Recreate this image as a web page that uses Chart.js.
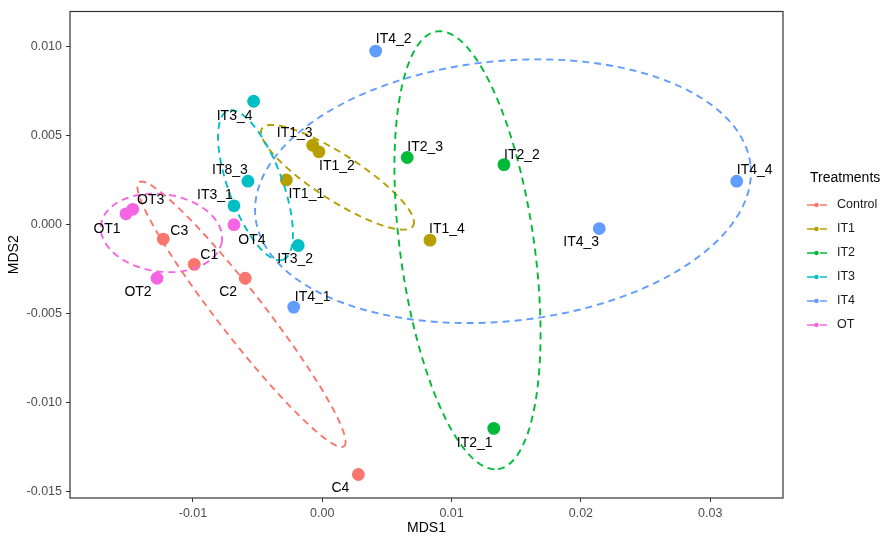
<!DOCTYPE html>
<html lang="en">
<head>
    <meta charset="UTF-8">
    <title>NMDS Treatments</title>
    <script src="https://cdn.jsdelivr.net/npm/chart.js"></script>
    <style>
        html, body { margin: 0; padding: 0; background: #fff; }
        #wrap { width: 887px; height: 544px; }
    </style>
</head>
<body>
    <div id="wrap"><canvas id="nmdsChart"></canvas></div>

    <script>
        // Data
        const treatments = ['Control', 'IT1', 'IT2', 'IT3', 'IT4', 'OT'];
        const treatmentColors = ['#F8766D', '#B79F00', '#00BA38', '#00BFC4', '#619CFF', '#F564E3'];

        const sampleNames  = ['C1', 'C2', 'C3', 'C4',
                              'IT1_1', 'IT1_2', 'IT1_3', 'IT1_4',
                              'IT2_1', 'IT2_2', 'IT2_3',
                              'IT3_1', 'IT3_2', 'IT8_3', 'IT3_4',
                              'IT4_1', 'IT4_2', 'IT4_3', 'IT4_4',
                              'OT1', 'OT2', 'OT3', 'OT4'];
        const sampleGroups = ['Control', 'Control', 'Control', 'Control',
                              'IT1', 'IT1', 'IT1', 'IT1',
                              'IT2', 'IT2', 'IT2',
                              'IT3', 'IT3', 'IT3', 'IT3',
                              'IT4', 'IT4', 'IT4', 'IT4',
                              'OT', 'OT', 'OT', 'OT'];
        const mds1 = [-0.0099, -0.00596, -0.0123, 0.00279,
                      -0.00278, -0.00026, -0.00074, 0.00833,
                      0.01326, 0.01405, 0.00657,
                      -0.00683, -0.00186, -0.00575, -0.00531,
                      -0.00221, 0.00413, 0.02142, 0.03205,
                      -0.01518, -0.01278, -0.01466, -0.00683];
        const mds2 = [-0.00223, -0.00301, -0.00081, -0.01403,
                      0.00251, 0.00409, 0.00446, -0.00087,
                      -0.01144, 0.00337, 0.00377,
                      0.00106, -0.00117, 0.00244, 0.00693,
                      -0.00463, 0.00975, -0.00022, 0.00244,
                      0.00061, -0.00301, 0.00086, 0.0];

        // 95% ellipses per treatment: centre and two conjugate semi-axes (data units)
        const ellipseCentre = [[-0.006249, -0.005033], [0.001176, 0.002659], [0.011230, -0.001438],
                               [-0.005166, 0.002213], [0.013975, 0.001878], [-0.012436, -0.000463]];
        const ellipseAxisA  = [[0.007927, -0.007414], [0.005839, -0.002737], [0.002359, -0.012291],
                               [0.002127, -0.004186], [0.019149, 0.001449], [0.004671, -0.000474]];
        const ellipseAxisB  = [[0.001408, 0.000780], [0.000967, 0.001076], [0.005135, 0.000513],
                               [0.001964, 0.000518], [0.001060, -0.007263], [-0.000418, -0.002152]];

        const xTicks = [-0.01, 0.00, 0.01, 0.02, 0.03];
        const xTickLabels = ['-0.01', '0.00', '0.01', '0.02', '0.03'];
        const yTicks = [-0.015, -0.010, -0.005, 0.000, 0.005, 0.010];
        const yTickLabels = ['-0.015', '-0.010', '-0.005', '0.000', '0.005', '0.010'];

        // text label nudges in pixels, same order as sampleNames
        const labelOffsets = [[15, -9], [-17, 14], [16, -8], [-18, 14],
                              [20, 14], [18, 14], [-18, -12], [17, -11],
                              [-19, 15], [18, -10], [18, -10],
                              [-19, -11], [-3, 14], [-18, -11], [-19, 15],
                              [19, -10], [18, -12], [-18, 14], [18, -11],
                              [-19, 15], [-19, 14], [18, -9], [18, 15]];

        const FONT = '"Liberation Sans", Arial, sans-serif';

        // Build one dataset per treatment
        const datasets = treatments.map((t, gi) => {
            const pts = [];
            sampleNames.forEach((name, i) => {
                if (sampleGroups[i] === t) {
                    pts.push({ x: mds1[i], y: mds2[i], name: name, idx: i });
                }
            });
            return {
                label: t,
                data: pts,
                backgroundColor: treatmentColors[gi],
                borderWidth: 0,
                pointRadius: 6.4,
                pointHoverRadius: 6.4
            };
        });

        // Ellipses, sample labels, panel border and legend
        const overlay = {
            id: 'overlay',
            afterDatasetsDraw(chart) {
                const ctx = chart.ctx;
                const xs = chart.scales.x;
                const ys = chart.scales.y;
                const area = chart.chartArea;

                ctx.save();
                ctx.beginPath();
                ctx.rect(area.left, area.top, area.right - area.left, area.bottom - area.top);
                ctx.clip();
                ctx.lineWidth = 1.9;
                ctx.setLineDash([7, 5]);
                treatments.forEach((t, gi) => {
                    const c = ellipseCentre[gi], a = ellipseAxisA[gi], b = ellipseAxisB[gi];
                    ctx.strokeStyle = treatmentColors[gi];
                    ctx.beginPath();
                    for (let k = 0; k <= 120; k++) {
                        const th = (k / 120) * Math.PI * 2;
                        const px = xs.getPixelForValue(c[0] + a[0] * Math.cos(th) + b[0] * Math.sin(th));
                        const py = ys.getPixelForValue(c[1] + a[1] * Math.cos(th) + b[1] * Math.sin(th));
                        if (k === 0) ctx.moveTo(px, py); else ctx.lineTo(px, py);
                    }
                    ctx.stroke();
                });
                ctx.restore();

                // sample labels
                ctx.save();
                ctx.font = '14px ' + FONT;
                ctx.fillStyle = '#000';
                ctx.textAlign = 'center';
                ctx.textBaseline = 'middle';
                sampleNames.forEach((name, i) => {
                    const px = xs.getPixelForValue(mds1[i]) + labelOffsets[i][0];
                    const py = ys.getPixelForValue(mds2[i]) + labelOffsets[i][1];
                    ctx.fillText(name, px, py);
                });
                ctx.restore();

                // panel border
                ctx.save();
                ctx.strokeStyle = '#333333';
                ctx.lineWidth = 1.2;
                ctx.strokeRect(area.left, area.top, area.right - area.left, area.bottom - area.top);
                ctx.restore();

                // legend
                ctx.save();
                ctx.fillStyle = '#000';
                ctx.textBaseline = 'middle';
                ctx.textAlign = 'left';
                ctx.font = '14px ' + FONT;
                ctx.fillText('Treatments', 810, 178);
                ctx.font = '12.5px ' + FONT;
                treatments.forEach((t, gi) => {
                    const y = 205 + gi * 24;
                    ctx.strokeStyle = treatmentColors[gi];
                    ctx.fillStyle = treatmentColors[gi];
                    ctx.lineWidth = 1.7;
                    ctx.setLineDash([9, 4]);
                    ctx.beginPath();
                    ctx.moveTo(807, y);
                    ctx.lineTo(827, y);
                    ctx.stroke();
                    ctx.setLineDash([]);
                    ctx.beginPath();
                    ctx.arc(816.5, y, 2.2, 0, Math.PI * 2);
                    ctx.fill();
                    ctx.fillStyle = '#1a1a1a';
                    ctx.fillText(t, 837, y);
                });
                ctx.restore();
            }
        };

        const ctx = document.getElementById('nmdsChart').getContext('2d');
        const chart = new Chart(ctx, {
            type: 'scatter',
            data: { datasets: datasets },
            options: {
                responsive: true,
                maintainAspectRatio: false,
                animation: false,
                layout: { padding: { left: 0, top: 8, right: 104, bottom: 0 } },
                plugins: {
                    legend: { display: false },
                    tooltip: { enabled: false }
                },
                scales: {
                    x: {
                        type: 'linear',
                        min: -0.01951,
                        max: 0.03563,
                        afterBuildTicks: (scale) => { scale.ticks = xTicks.map(v => ({ value: v })); },
                        afterFit: (scale) => { scale.height = 46; },
                        ticks: {
                            color: '#4D4D4D',
                            font: { family: FONT, size: 12.5 },
                            padding: 4,
                            maxRotation: 0,
                            callback: (v) => xTickLabels[xTicks.indexOf(v)]
                        },
                        grid: {
                            drawOnChartArea: false,
                            drawTicks: true,
                            tickLength: 4,
                            tickColor: '#333333',
                            tickWidth: 1
                        },
                        border: { display: false },
                        title: {
                            display: true,
                            text: 'MDS1',
                            color: '#000',
                            font: { family: FONT, size: 14 },
                            padding: { top: 0, bottom: 7.6 }
                        }
                    },
                    y: {
                        type: 'linear',
                        min: -0.01535,
                        max: 0.01197,
                        afterBuildTicks: (scale) => { scale.ticks = yTicks.map(v => ({ value: v })); },
                        afterFit: (scale) => { scale.width = 70; },
                        ticks: {
                            color: '#4D4D4D',
                            font: { family: FONT, size: 12.5 },
                            padding: 4,
                            callback: (v) => yTickLabels[yTicks.indexOf(v)]
                        },
                        grid: {
                            drawOnChartArea: false,
                            drawTicks: true,
                            tickLength: 4,
                            tickColor: '#333333',
                            tickWidth: 1
                        },
                        border: { display: false },
                        title: {
                            display: true,
                            text: 'MDS2',
                            color: '#000',
                            font: { family: FONT, size: 14 },
                            padding: { top: 5.6, bottom: 0 }
                        }
                    }
                }
            },
            plugins: [overlay]
        });
    </script>
</body>
</html>
